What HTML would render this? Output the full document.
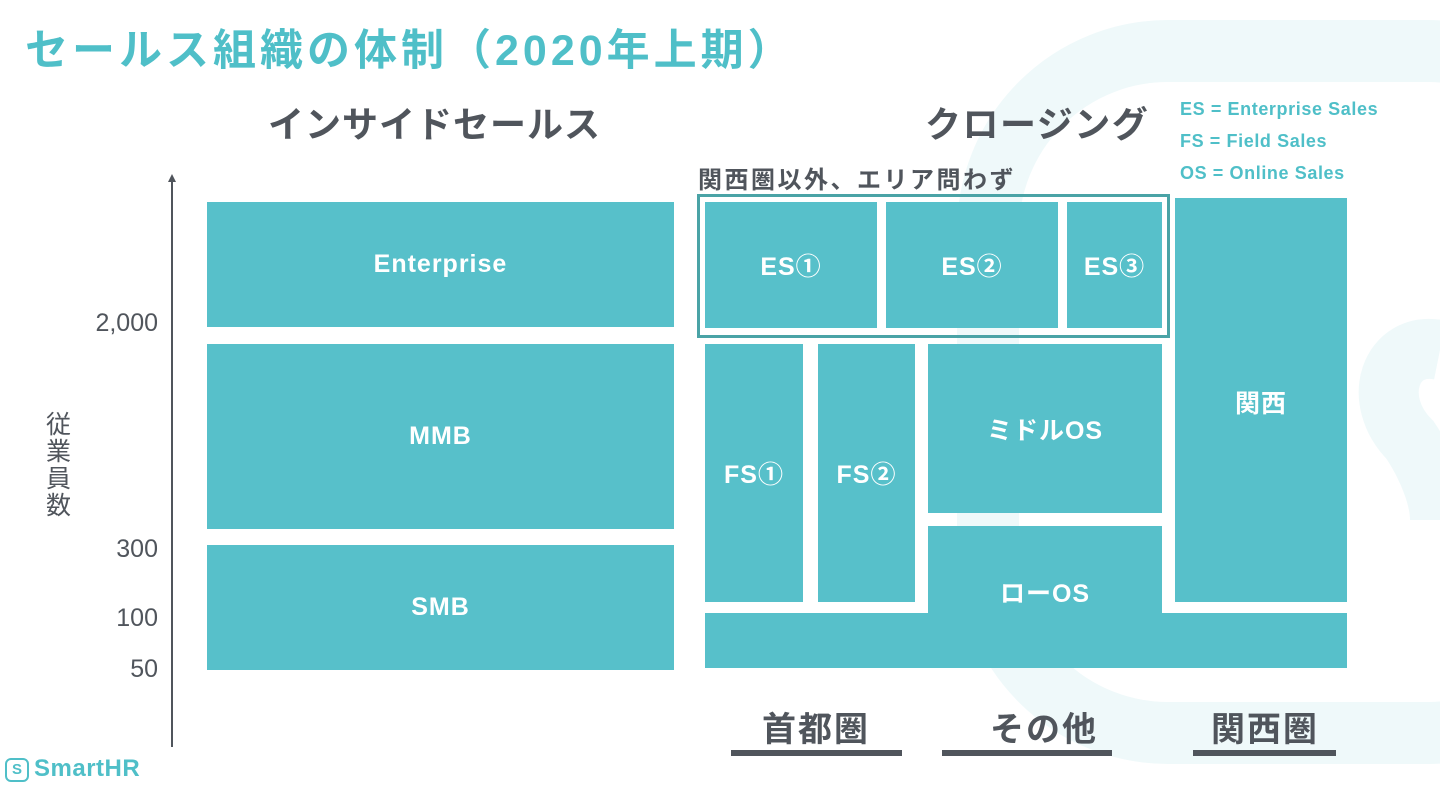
<!DOCTYPE html>
<html><head><meta charset="utf-8"><style>
*{margin:0;padding:0;box-sizing:border-box}
body{width:1440px;height:790px;position:relative;background:#fff;overflow:hidden;font-family:"Liberation Sans","Noto Sans CJK JP",sans-serif}
.a{position:absolute}
.b{position:absolute;background:#57C0CA;color:#fff;font-weight:bold;font-size:25px;letter-spacing:1px;display:flex;align-items:center;justify-content:center}
.t{position:absolute;color:#50555c;font-weight:bold;white-space:nowrap}
.n{position:absolute;color:#50555c;font-size:25px;text-align:right;width:80px;left:78px;line-height:1}
.u{position:absolute;background:#50555c;height:6px;top:750px}
.lg{position:absolute;left:1180px;color:#4FBFC8;font-size:18px;font-weight:bold;white-space:nowrap;letter-spacing:0.6px}
</style></head><body>
<svg class="a" style="left:0;top:0" width="1440" height="790">
<rect x="988" y="51" width="620" height="682" rx="180" fill="none" stroke="#EFF9FA" stroke-width="62"/>
<path d="M1440 350 C1390 340 1370 400 1410 440 C1430 470 1440 500 1440 520" fill="none" stroke="#EFF9FA" stroke-width="60"/>
</svg>
<div class="a" style="left:25px;top:16px;color:#4FBFC8;font-size:43px;font-weight:bold;white-space:nowrap;letter-spacing:4px">セールス組織の体制（2020年上期）</div>
<div class="t" style="left:268px;top:96px;font-size:36px;letter-spacing:1px">インサイドセールス</div>
<div class="t" style="left:925px;top:96px;font-size:36px;letter-spacing:1.5px">クロージング</div>
<div class="lg" style="top:99px">ES = Enterprise Sales</div>
<div class="lg" style="top:131px">FS = Field Sales</div>
<div class="lg" style="top:163px">OS = Online Sales</div>
<div class="t" style="left:698px;top:160px;font-size:24px;letter-spacing:2.5px">関西圏以外、エリア問わず</div>
<div class="a" style="left:171px;top:180px;width:2px;height:567px;background:#50555c"></div>
<div class="a" style="left:168px;top:174px;width:0;height:0;border-left:4px solid transparent;border-right:4px solid transparent;border-bottom:8px solid #50555c"></div>
<div class="n" style="top:311px">2,000</div>
<div class="n" style="top:537px">300</div>
<div class="n" style="top:606px">100</div>
<div class="n" style="top:657px">50</div>
<div class="t" style="left:46px;top:412px;font-size:25px;width:28px;line-height:27px;white-space:normal;font-weight:normal">従業員数</div>
<div class="b" style="left:207px;top:202px;width:467px;height:125px">Enterprise</div>
<div class="b" style="left:207px;top:344px;width:467px;height:185px">MMB</div>
<div class="b" style="left:207px;top:545px;width:467px;height:125px">SMB</div>
<div class="a" style="left:697px;top:194px;width:473px;height:144px;border:3px solid #4AA3A6"></div>
<div class="b" style="left:705px;top:202px;width:172px;height:126px">ES①</div>
<div class="b" style="left:886px;top:202px;width:172px;height:126px">ES②</div>
<div class="b" style="left:1067px;top:202px;width:95px;height:126px">ES③</div>
<div class="b" style="left:1175px;top:198px;width:172px;height:404px;align-items:flex-start;padding-top:186px">関西</div>
<div class="b" style="left:705px;top:344px;width:98px;height:258px">FS①</div>
<div class="b" style="left:818px;top:344px;width:97px;height:258px">FS②</div>
<div class="b" style="left:928px;top:344px;width:234px;height:169px">ミドルOS</div>
<div class="b" style="left:928px;top:526px;width:234px;height:142px;align-items:flex-start;padding-top:48px">ローOS</div>
<div class="b" style="left:705px;top:613px;width:642px;height:55px"></div>
<div class="t" style="left:762px;top:702px;font-size:34px;letter-spacing:2px">首都圏</div>
<div class="t" style="left:990px;top:702px;font-size:34px;letter-spacing:2px">その他</div>
<div class="t" style="left:1211px;top:702px;font-size:34px;letter-spacing:2px">関西圏</div>
<div class="u" style="left:731px;width:171px"></div>
<div class="u" style="left:942px;width:170px"></div>
<div class="u" style="left:1193px;width:143px"></div>
<div class="a" style="left:5px;top:758px;width:24px;height:24px;border:2px solid #4FBFC8;border-radius:6px;color:#4FBFC8;font-size:15px;font-weight:bold;text-align:center;line-height:20px">S</div>
<div class="a" style="left:34px;top:755px;color:#4FBFC8;font-size:24px;font-weight:bold;letter-spacing:0.5px">SmartHR</div>
</body></html>
